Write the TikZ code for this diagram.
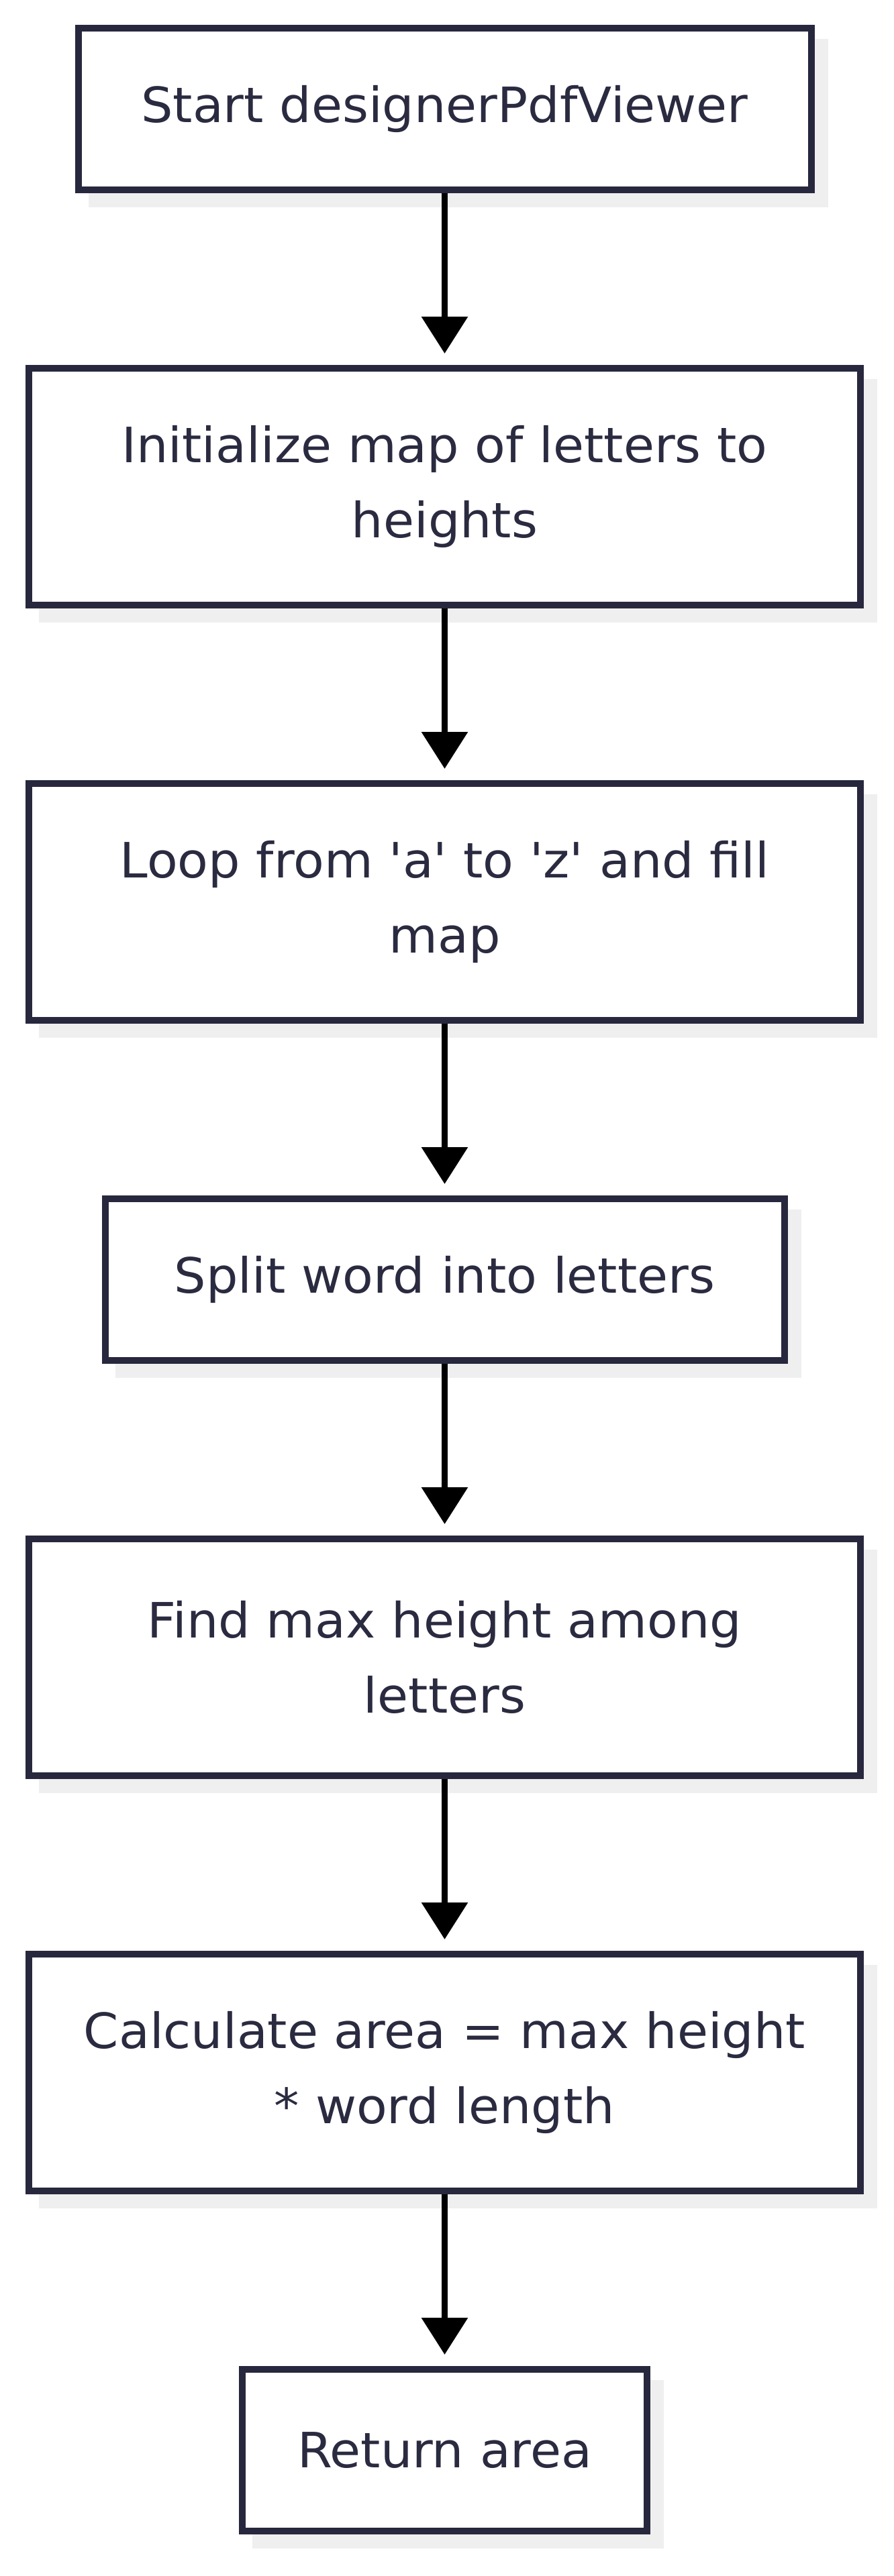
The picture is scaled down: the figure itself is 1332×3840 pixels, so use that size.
\documentclass[tikz,border=0pt]{standalone}
\usepackage{fontspec}
\setmainfont{DejaVu Sans}[Ligatures=TeXOff,FakeStretch=1.03]
\usetikzlibrary{arrows.meta,calc,backgrounds}
\definecolor{edgecol}{HTML}{27273E}
\definecolor{txtcol}{HTML}{2A2A40}
\definecolor{shadowcol}{HTML}{EFEFEF}
\tikzset{
  flowbox/.style={draw=edgecol, line width=5pt, fill=white, text=txtcol,
    align=center, inner sep=0pt, font=\fontsize{36.3}{56}\selectfont},
  flowarrow/.style={draw=black, line width=4.9pt,
    -{Triangle[length=27.5pt,width=33.5pt]}},
}
\newcommand{\boxshadow}[1]{%
  \begin{pgfonlayer}{background}
    \fill[shadowcol] ($(#1.north west)+(20,21)$) rectangle ($(#1.south east)+(20,21)$);
  \end{pgfonlayer}}
\begin{document}
\begin{tikzpicture}[x=0.5pt,y=-0.5pt]
\useasboundingbox (0,0) rectangle (1332,3840);
\node[flowbox, minimum width=546pt, minimum height=120.5pt] (b1) at (662.5,162.5) {Start designerPdfViewer};
\node[flowbox, minimum width=619.5pt, minimum height=176.5pt] (b2) at (662.5,725.5) {Initialize map of letters to\\heights};
\node[flowbox, minimum width=619.5pt, minimum height=176.5pt] (b3) at (662.5,1344.5) {Loop from 'a' to 'z' and fill\\map};
\node[flowbox, minimum width=506pt, minimum height=120.5pt] (b4) at (662.5,1907.5) {Split word into letters};
\node[flowbox, minimum width=619.5pt, minimum height=176.5pt] (b5) at (662.5,2470.5) {Find max height among\\letters};
\node[flowbox, minimum width=619.5pt, minimum height=176.5pt] (b6) at (662.5,3089.5) {Calculate area = max height\\* word length};
\node[flowbox, minimum width=301.5pt, minimum height=120.5pt] (b7) at (662.5,3652.5) {Return area};
\foreach \n in {b1,b2,b3,b4,b5,b6,b7} {\boxshadow{\n}}
\draw[flowarrow] (b1.south) -- ($(b2.north)+(0,-17)$);
\draw[flowarrow] (b2.south) -- ($(b3.north)+(0,-17)$);
\draw[flowarrow] (b3.south) -- ($(b4.north)+(0,-17)$);
\draw[flowarrow] (b4.south) -- ($(b5.north)+(0,-17)$);
\draw[flowarrow] (b5.south) -- ($(b6.north)+(0,-17)$);
\draw[flowarrow] (b6.south) -- ($(b7.north)+(0,-17)$);
\end{tikzpicture}
\end{document}
